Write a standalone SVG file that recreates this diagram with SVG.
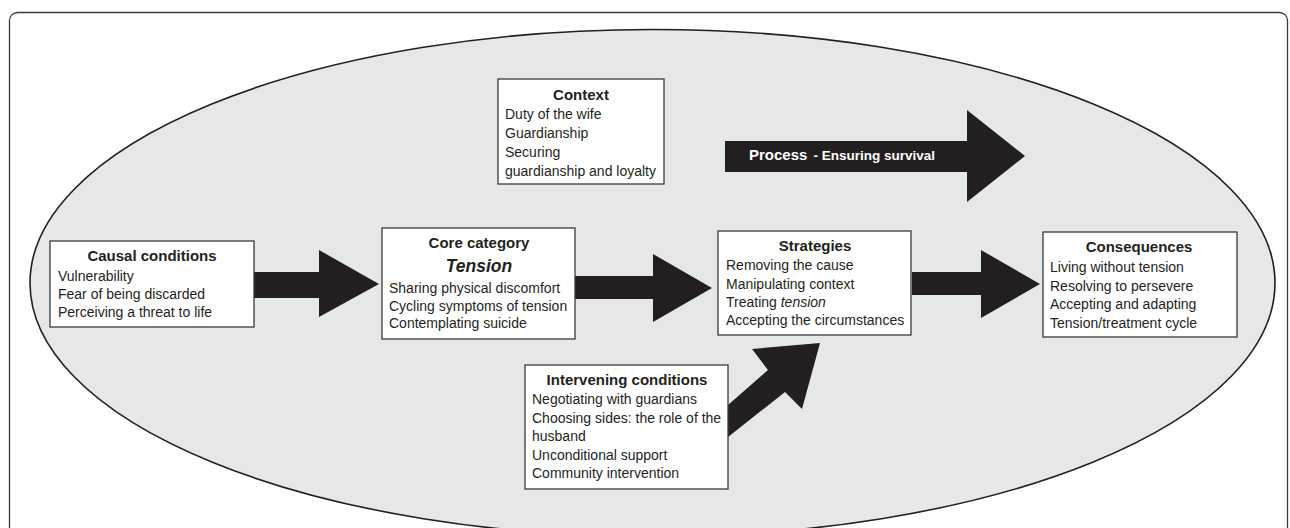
<svg xmlns="http://www.w3.org/2000/svg" width="1290" height="528" viewBox="0 0 1290 528">
<style>
text{font-family:"Liberation Sans",Arial,Helvetica,sans-serif;fill:#231f20;font-size:14px}
.t{font-weight:bold;font-size:15px;text-anchor:middle}
.box{fill:#fff;stroke:#3a3a3a;stroke-width:1.3}
.arr{fill:#231f20}
</style>
<rect x="9.5" y="12.5" width="1278" height="540" rx="8" fill="#fff" stroke="#3a3a3a" stroke-width="1.3"/>
<ellipse cx="652.5" cy="283" rx="622.5" ry="253.5" fill="#e6e7e9" stroke="#231f20" stroke-width="1.6"/>
<g id="connectors">
<polygon class="arr" points="253,272 319,272 319,250 379,284 319,317 319,298 253,298"/>
<polygon class="arr" points="575,276 653,276 653,254 712,288 653,322 653,299 575,299"/>
<polygon class="arr" points="912,272 981,272 981,250 1040,284 981,318 981,295 912,295"/>
<polygon class="arr" points="728,405 768,370 752,349 820,343 802,409 785,392 728,437"/>
</g>
<g id="process">
<polygon class="arr" points="725,141 967,141 967,110 1025,156 967,202 967,172 725,172"/>
<text x="749" y="160" style="fill:#fff;font-weight:bold;font-size:15px">Process <tspan style="font-size:13.5px" dx="2">- Ensuring survival</tspan></text>
</g>
<g id="context">
<rect class="box" x="498" y="79" width="166" height="105"/>
<text class="t" x="581" y="100">Context</text>
<text x="505" y="119">Duty of the wife</text>
<text x="505" y="138">Guardianship</text>
<text x="505" y="157">Securing</text>
<text x="505" y="176">guardianship and loyalty</text>
</g>
<g id="causal">
<rect class="box" x="50" y="241" width="204" height="86"/>
<text class="t" x="152" y="261">Causal conditions</text>
<text x="58" y="281">Vulnerability</text>
<text x="58" y="299">Fear of being discarded</text>
<text x="58" y="317">Perceiving a threat to life</text>
</g>
<g id="core">
<rect class="box" x="382" y="228" width="193" height="111"/>
<text class="t" x="479" y="248">Core category</text>
<text class="t" x="479" y="272" style="font-style:italic;font-size:17.5px">Tension</text>
<text x="389" y="293">Sharing physical discomfort</text>
<text x="389" y="311">Cycling symptoms of tension</text>
<text x="389" y="328">Contemplating suicide</text>
</g>
<g id="strategies">
<rect class="box" x="718" y="231" width="193" height="104"/>
<text class="t" x="815" y="251">Strategies</text>
<text x="726" y="270">Removing the cause</text>
<text x="726" y="289">Manipulating context</text>
<text x="726" y="307">Treating <tspan font-style="italic">tension</tspan></text>
<text x="726" y="325">Accepting the circumstances</text>
</g>
<g id="consequences">
<rect class="box" x="1043" y="232" width="194" height="105"/>
<text class="t" x="1139" y="252">Consequences</text>
<text x="1050" y="272">Living without tension</text>
<text x="1050" y="291">Resolving to persevere</text>
<text x="1050" y="309">Accepting and adapting</text>
<text x="1050" y="328">Tension/treatment cycle</text>
</g>
<g id="intervening">
<rect class="box" x="525" y="365" width="203" height="124"/>
<text class="t" x="627" y="385">Intervening conditions</text>
<text x="532" y="404">Negotiating with guardians</text>
<text x="532" y="423">Choosing sides: the role of the</text>
<text x="532" y="441">husband</text>
<text x="532" y="460">Unconditional support</text>
<text x="532" y="478">Community intervention</text>
</g>
</svg>
